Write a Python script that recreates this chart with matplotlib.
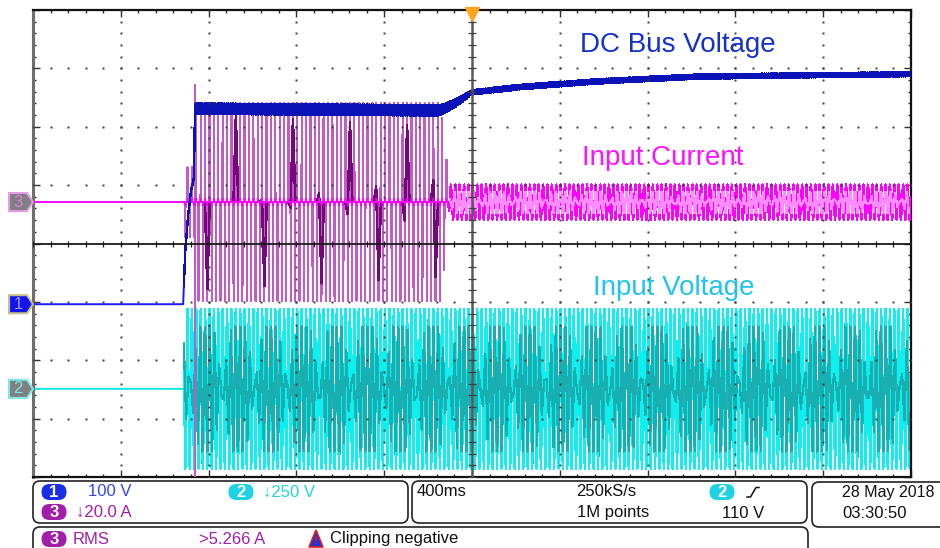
import numpy as np
import matplotlib
matplotlib.use("Agg")
import matplotlib.pyplot as plt
from matplotlib.patches import Polygon, FancyBboxPatch
from matplotlib import transforms

plt.rcParams["path.simplify"] = False
plt.rcParams["font.family"] = ["Liberation Sans", "DejaVu Sans"]

# ---- acquisition settings -------------------------------------------------
time_per_div = 0.4          # s/div  (400 ms)
ch1_scale = 100.0           # V/div  DC bus
ch2_scale = 250.0           # V/div  input voltage
ch3_scale = 20.0            # A/div  input current
ch1_pos = -1.04             # channel ground markers, in divisions
ch2_pos = -2.49
ch3_pos = 0.71
line_freq = 50.0            # Hz
record_rate = 10000.0       # displayed samples per second
persist_rate_v = 93.2       # decimated persistence layers, S/s
persist_rate_i = 92.3
trigger_level = 110.0       # V, ch2 rising

# ---- event times (s, relative to trigger) ---------------------------------
t_ac_on = -1.313
t_relay = -1.262
t_pfc_on = -0.109

# ---- DC bus voltage (ch1) --------------------------------------------------
bus_t = [-2.0, -1.316, -1.307, -1.294, -1.280, -1.267, -1.262, -0.146,
         -0.077, 0.0, 0.219, 0.583, 1.039, 1.494, 2.0]
bus_v = [0, 0, 87, 150, 195, 216, 335, 332, 344, 363, 372, 382, 390, 392, 394]
ripple_t = [-2.0, -1.263, -1.262, -0.146, 0.0, 2.0]
ripple_v = [0, 0, 9, 9, 4, 3.5]

# ---- input voltage (ch2) ---------------------------------------------------
vin_peak = 342.0

# ---- input current (ch3) ---------------------------------------------------
pulse_t = [-2.0, -1.3135, -1.313, -1.263, -1.262, -0.146, -0.128, -0.113, -0.109, 2.0]
pulse_a = [0, 0, 12, 12, 34, 34, 25, 12, 0, 0]
pfc_t = [-2.0, -0.110, -0.100, 2.0]
pfc_a = [0, 0, 6.0, 6.0]
inrush_t = [-1.2630, -1.2622, -1.2614, -1.2606]
inrush_i = [0, 40, -110, 0]
conduction = 0.982          # |sin| above which the bridge rectifier conducts


def signals(t):
    """Return (bus volts, input volts, input amps, line phase sine) on grid t."""
    theta = 2 * np.pi * line_freq * t + np.arcsin(trigger_level / vin_peak)
    s = np.sin(theta)
    vin = np.where(t >= t_ac_on, vin_peak * s, 0.0)
    bus = np.interp(t, bus_t, bus_v) + np.interp(t, ripple_t, ripple_v) * np.sin(2 * theta)
    cond = np.clip((np.abs(s) - conduction) / (1 - conduction), 0, 1)
    iin = np.interp(t, pulse_t, pulse_a) * np.sign(s) * cond
    iin = iin + np.interp(t, pfc_t, pfc_a) * s
    return bus, vin, iin, s


t = np.arange(-2.0, 2.0, 1.0 / record_rate)
bus, vin, iin, s = signals(t)
for ti, ii in zip(inrush_t, inrush_i):
    iin[np.argmin(np.abs(t - ti))] = ii

tv = np.arange(t_ac_on, 2.0, 1.0 / persist_rate_v)
_, vin_d, _, _ = signals(tv)
ti_ = np.arange(t_relay + 0.002, 2.0, 1.0 / persist_rate_i)
_, _, iin_d, _ = signals(ti_)

# ---- figure ----------------------------------------------------------------
W, H = 940, 548
fig = plt.figure(figsize=(W / 100, H / 100), dpi=100, facecolor="white")
ax = fig.add_axes([33 / W, 1 - 477 / H, 878 / W, 467 / H])
ax.set_xlim(-5 * time_per_div, 5 * time_per_div)
ax.set_ylim(-4, 4)

on = t >= t_ac_on

# ch2: input voltage
y2 = ch2_pos + vin / ch2_scale
ax.plot(t[on], y2[on], color="#0ef0f0", lw=0.8, antialiased=False, zorder=2)
ax.plot(tv, ch2_pos + vin_d / ch2_scale, color="#1aa8ac", lw=0.9, alpha=0.9,
        antialiased=False, zorder=2.1)
y2_hi = np.where(np.abs(s) > 0.8, y2, np.nan)
ax.plot(t[on], y2_hi[on], color="#0ef0f0", lw=0.8, antialiased=False, zorder=2.2)
ax.plot(t[~on], y2[~on], color="#10e6e6", lw=1.4, zorder=2)

# ch3: input current
y3 = ch3_pos + iin / ch3_scale
pre = t < t_pfc_on + 0.002
ax.plot(t[pre], y3[pre], color="#c25cc4", lw=0.8, antialiased=False, zorder=3)
dpre = ti_ < t_pfc_on
ax.plot(ti_[dpre], ch3_pos + iin_d[dpre] / ch3_scale, color="#74087a", lw=1.1,
        antialiased=False, zorder=3.05)
post = t > t_pfc_on - 0.001
ax.plot(t[post], y3[post], color="#ff00ff", lw=0.8, antialiased=False, zorder=3)
dpost = tv > t_pfc_on
ax.plot(tv[dpost], ch3_pos + np.interp(tv[dpost], t, iin) / ch3_scale,
        color="#ff8cff", lw=0.9, antialiased=False, zorder=3.05)
y3_hi = np.where(np.abs(s) > 0.7, y3, np.nan)
ax.plot(t[post], y3_hi[post], color="#ff00ff", lw=0.8, antialiased=False, zorder=3.1)
base = (t > t_ac_on) & (t < t_pfc_on)
ax.plot(t[base], ch3_pos + np.clip(iin[base], -1.2, 1.2) / ch3_scale,
        color="#ff00ff", lw=1.0, zorder=3.2)
ax.plot(t[~on], y3[~on], color="#ff00ff", lw=1.2, zorder=3)

# ch1: DC bus
y1 = ch1_pos + bus / ch1_scale
ax.plot(t[on], y1[on], color="#0a12b8", lw=1.0, antialiased=False, zorder=4)
ax.plot(t[~on], y1[~on], color="#1a1aff", lw=1.4, zorder=4)

# graticule
minor_x = np.arange(-25, 26) * 0.2 * time_per_div
minor_y = np.arange(-20, 21) * 0.2
dot = dict(ls="none", marker="s", ms=1.4, mew=0, color="#3a3a3a", zorder=6)
for k in range(-4, 5):
    if k != 0:
        ax.plot(np.full_like(minor_y, k * time_per_div), minor_y, **dot)
for k in range(-3, 4):
    if k != 0:
        ax.plot(minor_x, np.full_like(minor_x, k), **dot)
ax.axhline(0, color="#1a1a1a", lw=1.3, zorder=6)
ax.axvline(0, color="#5a5a5a", lw=1.8, zorder=6)
ax.plot(minor_x, np.zeros_like(minor_x), ls="none", marker="|", ms=5, mew=0.9,
        color="#1a1a1a", zorder=6)
ax.plot(np.zeros_like(minor_y), minor_y, ls="none", marker="_", ms=6, mew=0.9,
        color="#404040", zorder=6)

ax.set_xticks(np.arange(-5, 6) * time_per_div)
ax.set_xticks(minor_x, minor=True)
ax.set_yticks(np.arange(-4, 5))
ax.set_yticks(minor_y, minor=True)
ax.tick_params(which="both", direction="in", top=True, right=True,
               labelbottom=False, labelleft=False, color="#303030")
ax.tick_params(which="major", length=5, width=1)
ax.tick_params(which="minor", length=2.5, width=1)
for side in ("top", "bottom", "right"):
    ax.spines[side].set_color("#111111")
    ax.spines[side].set_linewidth(1.6)
ax.spines["left"].set_color("#6e6e6e")
ax.spines["left"].set_linewidth(2.2)

# trigger position marker
ax.plot(0, 3.93, marker="v", ms=10, color="#ffa41c", mec="#ffa41c",
        clip_on=False, zorder=7)

# trace captions
cap = dict(fontsize=20, ha="center", va="center", zorder=8)
ax.text(0.939, 3.40, "DC Bus Voltage", color="#1432c8", **cap)
ax.text(0.870, 1.46, "Input Current", color="#ff10ff", **cap)
ax.text(0.920, -0.77, "Input Voltage", color="#22c4ee", **cap)

# channel ground markers
mk = transforms.blended_transform_factory(fig.transFigure, ax.transData)
def chan_marker(pos, label, face, edge, txt):
    h = 0.155
    xs = np.array([9, 27, 33, 27, 9]) / W
    ys = np.array([pos + h, pos + h, pos, pos - h, pos - h])
    fig.patches.append(Polygon(np.c_[xs, ys], closed=True, transform=mk,
                               facecolor=face, edgecolor=edge, lw=1.5))
    fig.text(18 / W, pos, label, transform=mk, ha="center", va="center",
             fontsize=12, color=txt)
chan_marker(ch3_pos, "3", "#808080", "#e79be7", "#e080e0")
chan_marker(ch1_pos, "1", "#1414f0", "#c8c08c", "#9a9ab4")
chan_marker(ch2_pos, "2", "#808080", "#7ee8e8", "#70ecec")

# ---- status bar --------------------------------------------------------------
ov = fig.add_axes([0, 0, 1, 1], zorder=10)
ov.set_xlim(0, W)
ov.set_ylim(H, 0)
ov.axis("off")
ov.patch.set_visible(False)

def box(x0, y0, x1, y1):
    ov.add_patch(FancyBboxPatch((x0, y0), x1 - x0, y1 - y0,
                                boxstyle="round,pad=0,rounding_size=7",
                                fc="white", ec="#222222", lw=1.2, clip_on=False))
box(33, 481, 408, 523)
box(412, 481, 807, 523)
box(812, 482, 950, 527)
box(33, 527, 808, 560)

def badge(cx, cy, label, color):
    ov.add_patch(FancyBboxPatch((cx - 11, cy - 6.5), 22, 13,
                                boxstyle="round,pad=1.5,rounding_size=8",
                                fc=color, ec="none"))
    ov.text(cx, cy + 0.5, label, ha="center", va="center", fontsize=12,
            color="white", fontweight="bold")

st = dict(fontsize=12, va="center", ha="left")
badge(54, 492, "1", "#1a2ee6")
ov.text(88, 492, "100 V", color="#2f46f2", **st)
badge(241, 492, "2", "#1cd2e4")
ov.text(263, 492, "\u2193250 V", color="#22d0e2", **st)
badge(54, 512, "3", "#a21ea8")
ov.text(76, 512, "\u219320.0 A", color="#a21ea8", **st)

ov.text(417, 492, "400ms", color="#111111", **st)
ov.text(576, 492, "250kS/s", color="#111111", **st)
ov.text(577, 513, "1M points", color="#111111", **st)
badge(722, 492, "2", "#1cd2e4")
ov.plot([747, 750.5, 756, 759], [497, 497, 487.5, 487.5], color="#111111", lw=1.1)
ov.text(722, 513, "110 V", color="#111111", **st)

ov.text(842, 492, "28 May 2018", color="#111111", fontsize=11.5, va="center", ha="left")
ov.text(842, 513, "03:30:50", color="#111111", **st)

badge(54, 539, "3", "#a21ea8")
ov.text(73, 539, "RMS", color="#a21ea8", **st)
ov.text(199, 539, ">5.266 A", color="#a21ea8", **st)
ov.add_patch(Polygon([[316, 530], [309, 547], [323, 547]], closed=True,
                     fc="#2034d4", ec="#e02020", lw=1.2))
ov.text(316, 541, "!", ha="center", va="center", fontsize=8, color="#e02020",
        fontweight="bold")
ov.text(330, 539, "Clipping negative", color="#111111", **st)

fig.savefig("out.png", dpi=100, facecolor="white")
